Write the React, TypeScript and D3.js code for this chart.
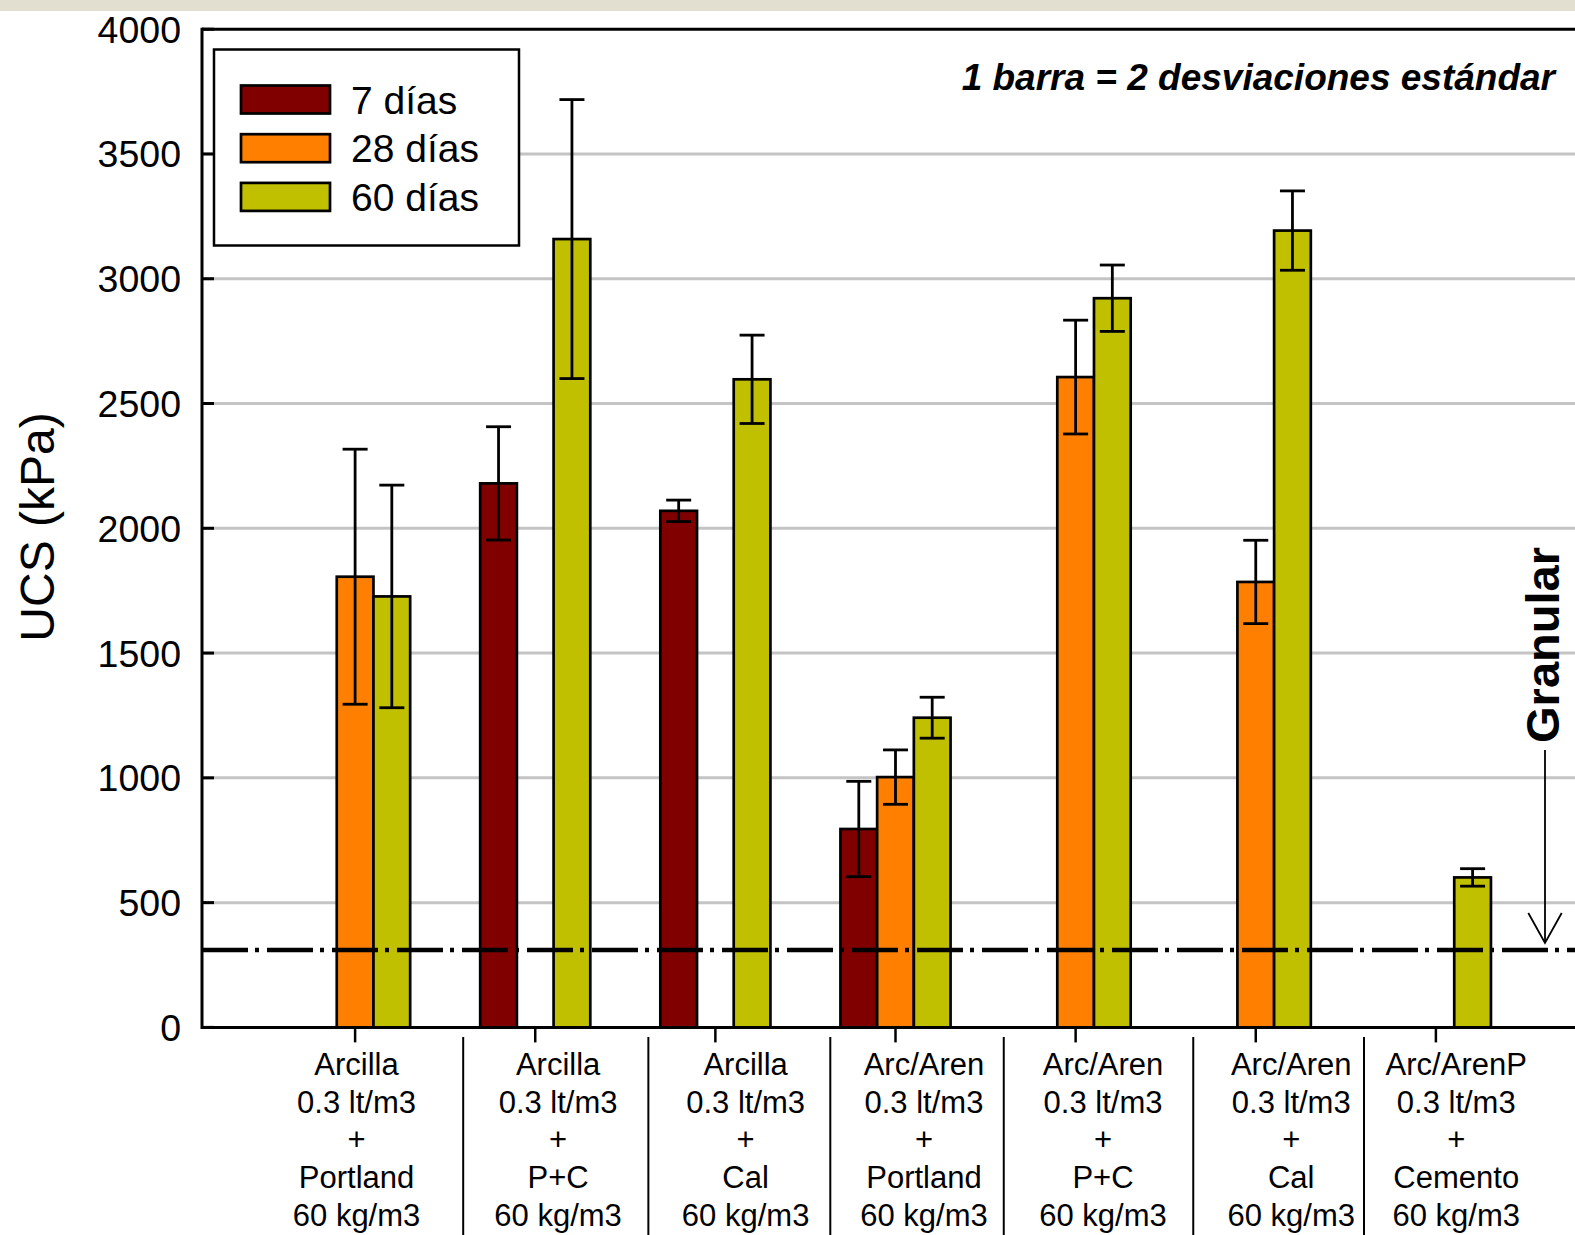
import React from "react";
import * as d3 from "d3";

// Mixture categories (x axis, one label per group, five lines each)
const materials = ["Arcilla", "Arcilla", "Arcilla", "Arc/Aren", "Arc/Aren", "Arc/Aren", "Arc/ArenP"];
const additives = ["0.3 lt/m3", "0.3 lt/m3", "0.3 lt/m3", "0.3 lt/m3", "0.3 lt/m3", "0.3 lt/m3", "0.3 lt/m3"];
const binders = ["Portland", "P+C", "Cal", "Portland", "P+C", "Cal", "Cemento"];
const doses = ["60 kg/m3", "60 kg/m3", "60 kg/m3", "60 kg/m3", "60 kg/m3", "60 kg/m3", "60 kg/m3"];

// Curing ages (series)
const ages = ["7 días", "28 días", "60 días"];

// Mean UCS (kPa) per age; null = not tested
const ucs7: (number | null)[] = [null, 2180, 2070, 795, null, null, null];
const ucs28: (number | null)[] = [1806, null, null, 1003, 2606, 1785, null];
const ucs60: (number | null)[] = [1727, 3159, 2597, 1241, 2922, 3193, 601];

// One standard deviation (kPa) per age
const sd7: (number | null)[] = [null, 227, 43, 191, null, null, null];
const sd28: (number | null)[] = [511, null, null, 109, 228, 167, null];
const sd60: (number | null)[] = [446, 559, 177, 82, 133, 159, 35];

// Reference value for granular material (kPa)
const granularUcs = 310;

// Y axis ticks
const yTicks = [0, 500, 1000, 1500, 2000, 2500, 3000, 3500, 4000];

const seriesColors = ["#800000", "#ff8000", "#c0c000"];
const FONT = "'Liberation Sans', Arial, Helvetica, sans-serif";

// Label cells under the axis (in category units)
const labelShift = [0.008, 0.127, 0.168, 0.158, 0.152, 0.197, 0.113];
const separators = [0.6, 1.628, 2.638, 3.601, 4.653, 5.601];

export default function App() {
  const W = 1575;
  const H = 1235;
  const left = 202;
  const top = 29.2;
  const bottom = 1027.4;

  const y = d3.scaleLinear().domain([0, 4000]).range([bottom, top]);
  const x = d3.scaleLinear().domain([-0.85, 6.85]).range([left, 1589]);
  const barW = 36.7;

  const means = [ucs7, ucs28, ucs60];
  const sds = [sd7, sd28, sd60];

  const bars: { key: string; cx: number; v: number; sd: number; color: string }[] = [];
  means.forEach((series, s) => {
    series.forEach((v, i) => {
      if (v == null) return;
      bars.push({
        key: `${s}-${i}`,
        cx: x(i) + (s - 1) * barW,
        v,
        sd: sds[s][i] ?? 0,
        color: seriesColors[s],
      });
    });
  });

  const lineGap = 37.7;
  const firstBaseline = 1075;
  const capHalf = 12.5;

  const arrowX = 1545;
  const arrowTip = 943;

  return (
    <svg
      width={W}
      height={H}
      viewBox={`0 0 ${W} ${H}`}
      style={{ position: "absolute", left: 0, top: 0, background: "#fff" }}
      fontFamily={FONT}
    >
      {/* top band */}
      <rect x={0} y={0} width={W} height={11} fill="#e3dfd0" />

      {/* horizontal grid */}
      {yTicks
        .filter((t) => t > 0 && t < 4000)
        .map((t) => (
          <line key={`g${t}`} x1={left} x2={W} y1={y(t)} y2={y(t)} stroke="#c4c4c4" strokeWidth={3} />
        ))}

      {/* bars */}
      {bars.map((b) => (
        <rect
          key={`b${b.key}`}
          x={b.cx - barW / 2}
          y={y(b.v)}
          width={barW}
          height={y(0) - y(b.v)}
          fill={b.color}
          stroke="#000"
          strokeWidth={2.7}
        />
      ))}

      {/* error bars: ±1 standard deviation */}
      {bars.map((b) => (
        <g key={`e${b.key}`} stroke="#000" strokeWidth={2.8}>
          <line x1={b.cx} x2={b.cx} y1={y(b.v + b.sd)} y2={y(b.v - b.sd)} />
          <line x1={b.cx - capHalf} x2={b.cx + capHalf} y1={y(b.v + b.sd)} y2={y(b.v + b.sd)} />
          <line x1={b.cx - capHalf} x2={b.cx + capHalf} y1={y(b.v - b.sd)} y2={y(b.v - b.sd)} />
        </g>
      ))}

      {/* granular reference line */}
      <line
        x1={left}
        x2={W}
        y1={y(granularUcs)}
        y2={y(granularUcs)}
        stroke="#000"
        strokeWidth={4.5}
        strokeDasharray="46 7 4 8"
      />

      {/* frame and axes */}
      <line x1={left} x2={W} y1={top} y2={top} stroke="#000" strokeWidth={3} />
      <line x1={left} x2={W} y1={bottom} y2={bottom} stroke="#000" strokeWidth={3} />
      <line x1={left} x2={left} y1={top - 1.5} y2={bottom + 1.5} stroke="#000" strokeWidth={3} />

      {/* y ticks (inward) and labels */}
      {yTicks.map((t) => (
        <g key={`yt${t}`}>
          <line x1={left} x2={left + 12} y1={y(t)} y2={y(t)} stroke="#000" strokeWidth={3} />
          <text x={181} y={y(t) + 13.5} fontSize={37.5} textAnchor="end" fill="#000">
            {t}
          </text>
        </g>
      ))}

      {/* x ticks */}
      {materials.map((_, i) => (
        <line key={`xt${i}`} x1={x(i)} x2={x(i)} y1={bottom} y2={bottom + 15} stroke="#000" strokeWidth={2.5} />
      ))}

      {/* label cell separators */}
      {separators.map((s, k) => (
        <line key={`sep${k}`} x1={x(s)} x2={x(s)} y1={1037} y2={H} stroke="#000" strokeWidth={2} />
      ))}

      {/* category labels */}
      {materials.map((m, i) => {
        const cx = x(i + labelShift[i]);
        const lines = [m, additives[i], "+", binders[i], doses[i]];
        return (
          <g key={`lab${i}`}>
            {lines.map((ln, j) => (
              <text
                key={j}
                x={cx}
                y={firstBaseline + j * lineGap}
                fontSize={31}
                textAnchor="middle"
                fill="#000"
              >
                {ln}
              </text>
            ))}
          </g>
        );
      })}

      {/* y axis title */}
      <text
        transform={`translate(54,527) rotate(-90)`}
        fontSize={48}
        textAnchor="middle"
        fill="#000"
      >
        UCS (kPa)
      </text>

      {/* legend */}
      <rect x={214} y={49.5} width={305} height={196} fill="#fff" stroke="#000" strokeWidth={2.5} />
      {ages.map((a, k) => {
        const sy = 85.5 + k * 48.7;
        return (
          <g key={`lg${k}`}>
            <rect x={241} y={sy} width={89} height={28} fill={seriesColors[k]} stroke="#000" strokeWidth={2.7} />
            <text x={351} y={sy + 14 + 14} fontSize={39} fill="#000">
              {a}
            </text>
          </g>
        );
      })}

      {/* note */}
      <text
        x={1555}
        y={90}
        fontSize={37}
        fontWeight="bold"
        fontStyle="italic"
        textAnchor="end"
        fill="#000"
      >
        1 barra = 2 desviaciones estándar
      </text>

      {/* granular annotation */}
      <text
        transform={`translate(1559,645) rotate(-90)`}
        fontSize={47}
        fontWeight="bold"
        textAnchor="middle"
        fill="#000"
      >
        Granular
      </text>
      <line x1={arrowX} x2={arrowX} y1={750} y2={arrowTip} stroke="#000" strokeWidth={1.8} />
      <polyline
        points={`${arrowX - 16.7},${arrowTip - 30} ${arrowX},${arrowTip} ${arrowX + 16.7},${arrowTip - 30}`}
        fill="none"
        stroke="#000"
        strokeWidth={1.8}
      />
    </svg>
  );
}
